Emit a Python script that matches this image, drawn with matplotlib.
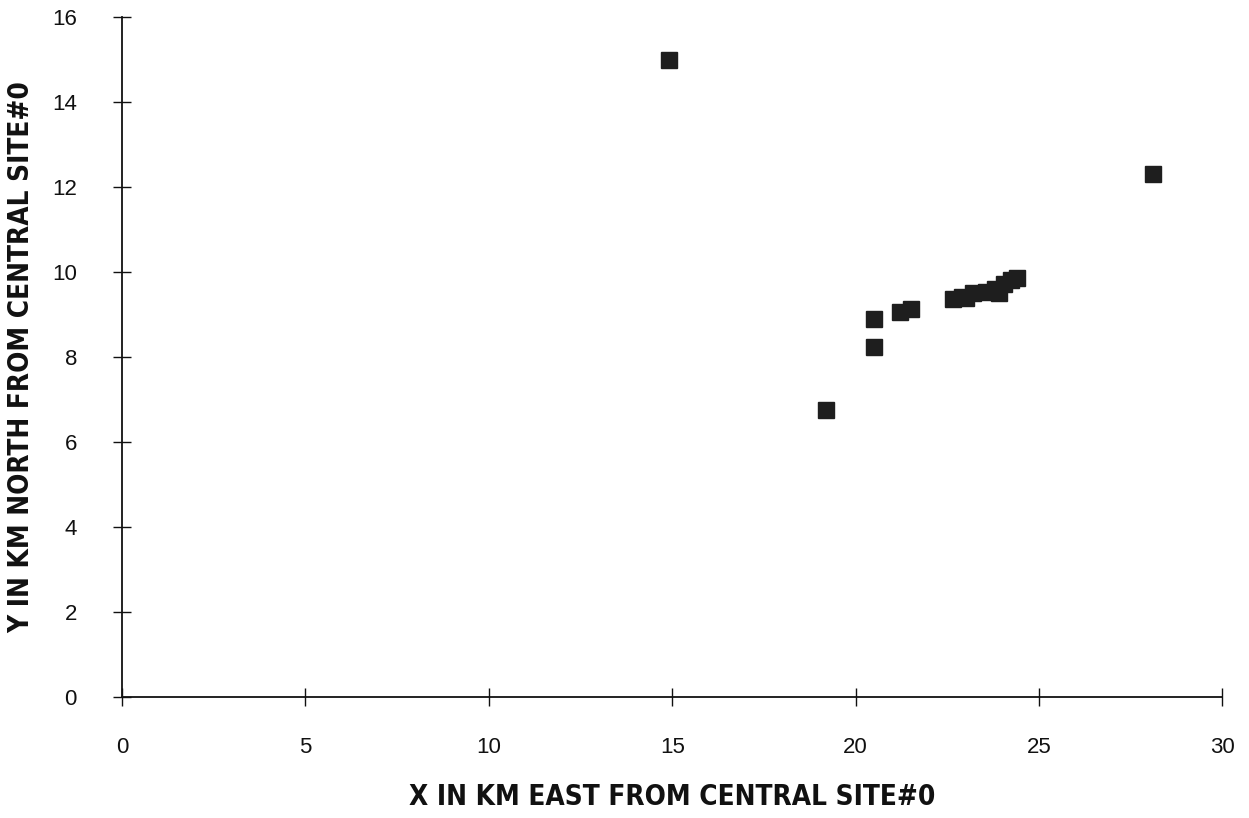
import numpy as np
import matplotlib.pyplot as plt

# site positions (km from central site #0)
x_km = [14.9, 28.1, 19.2, 20.5, 20.5, 21.2, 21.5,
        22.65, 22.9, 23.0, 23.2, 23.55, 23.8, 23.9, 24.05, 24.25, 24.4]
y_km = [15.0, 12.3, 6.75, 8.9, 8.23, 9.07, 9.13,
        9.37, 9.42, 9.38, 9.5, 9.54, 9.6, 9.5, 9.72, 9.82, 9.86]

x_ticks = [0, 5, 10, 15, 20, 25, 30]
y_ticks = [0, 2, 4, 6, 8, 10, 12, 14, 16]

fig = plt.figure(figsize=(12.49, 8.18), dpi=100)
ax = fig.add_axes([0.0977, 0.148, 0.881, 0.831])

ax.plot(x_km, y_km, linestyle="none", marker="s", markersize=11.5,
        color="#1e1e1e", markeredgecolor="#1e1e1e")

ax.set_xlim(0, 30)
ax.set_ylim(0, 16)
ax.set_xticks(x_ticks)
ax.set_yticks(y_ticks)

for s in ["top", "right"]:
    ax.spines[s].set_visible(False)
for s in ["left", "bottom"]:
    ax.spines[s].set_linewidth(1.3)
    ax.spines[s].set_color("#111111")

ax.tick_params(axis="both", direction="inout", length=13, width=1.0,
               colors="#111111", labelsize=16)
ax.tick_params(axis="y", pad=26)
ax.tick_params(axis="x", pad=22)
for lab in ax.get_xticklabels() + ax.get_yticklabels():
    lab.set_fontfamily("Liberation Sans")

ax.set_xlabel("X IN KM EAST FROM CENTRAL SITE#0", fontsize=20,
              fontweight="bold", fontstretch="condensed",
              family="DejaVu Sans", labelpad=18, color="#111111")
ax.set_ylabel("Y IN KM NORTH FROM CENTRAL SITE#0", fontsize=20,
              fontweight="bold", fontstretch="condensed",
              family="DejaVu Sans", labelpad=12, color="#111111")

fig.savefig("out.png", dpi=100)
